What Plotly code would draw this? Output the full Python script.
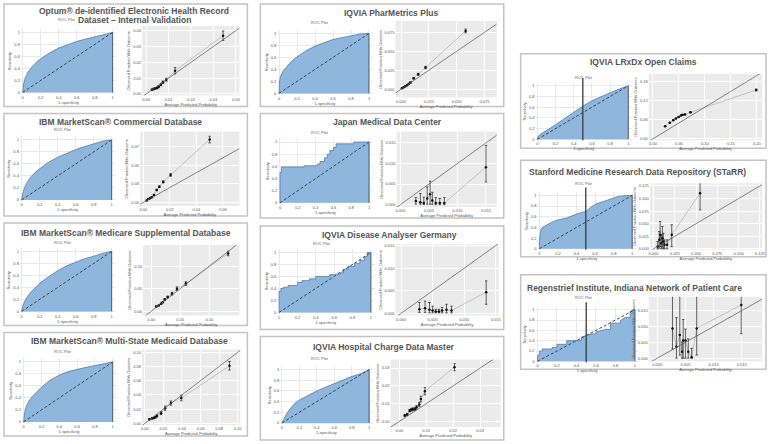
import plotly.graph_objects as go

W, H = 777, 444

# ---------------- DATA ----------------
# Optum EHR
optum_fpr = [0, 0.01, 0.03, 0.06, 0.1, 0.15, 0.2, 0.3, 0.4, 0.5, 0.6, 0.7, 0.8, 0.9, 1]
optum_tpr = [0, 0.14, 0.25, 0.34, 0.42, 0.5, 0.56, 0.66, 0.74, 0.8, 0.85, 0.89, 0.93, 0.97, 1]
optum_pred = [0.0026, 0.0034, 0.0041, 0.0049, 0.0056, 0.0066, 0.0075, 0.009, 0.0129, 0.0343]
optum_obs = [0.0027, 0.0032, 0.0036, 0.0038, 0.0046, 0.0059, 0.0074, 0.009, 0.0147, 0.0368]
optum_lo = [0.0022, 0.0027, 0.0031, 0.0033, 0.004, 0.0052, 0.0066, 0.0081, 0.0127, 0.0338]
optum_hi = [0.0032, 0.0037, 0.0041, 0.0043, 0.0052, 0.0066, 0.0082, 0.0099, 0.0167, 0.0398]

# IBM MarketScan Commercial
comm_fpr = [0, 0.01, 0.03, 0.06, 0.1, 0.15, 0.2, 0.3, 0.4, 0.5, 0.6, 0.7, 0.8, 0.9, 1]
comm_tpr = [0, 0.1, 0.2, 0.29, 0.38, 0.46, 0.52, 0.63, 0.71, 0.78, 0.84, 0.89, 0.94, 0.98, 1]
comm_pred = [0.0025, 0.0038, 0.005, 0.0063, 0.008, 0.01, 0.012, 0.015, 0.0205, 0.05]
comm_obs = [0.0026, 0.0044, 0.0057, 0.007, 0.01, 0.0167, 0.021, 0.0276, 0.037, 0.0846]
comm_lo = [0.0021, 0.0038, 0.0051, 0.0063, 0.0092, 0.0157, 0.0198, 0.0262, 0.0352, 0.0801]
comm_hi = [0.0031, 0.005, 0.0063, 0.0077, 0.0108, 0.0177, 0.0222, 0.029, 0.0388, 0.0891]

# IBM MarketScan Medicare Supplemental
mcare_fpr = [0, 0.01, 0.03, 0.06, 0.1, 0.15, 0.2, 0.3, 0.4, 0.5, 0.6, 0.7, 0.8, 0.9, 1]
mcare_tpr = [0, 0.08, 0.16, 0.24, 0.32, 0.4, 0.47, 0.58, 0.68, 0.76, 0.82, 0.88, 0.92, 0.97, 1]
mcare_pred = [0.0085, 0.013, 0.017, 0.0199, 0.0233, 0.0284, 0.0358, 0.0443, 0.0597, 0.1324]
mcare_obs = [0.0104, 0.0127, 0.0164, 0.0201, 0.0261, 0.0313, 0.0388, 0.05, 0.0612, 0.128]
mcare_lo = [0.0094, 0.0117, 0.0149, 0.0186, 0.0241, 0.0293, 0.0358, 0.046, 0.0572, 0.123]
mcare_hi = [0.0114, 0.0137, 0.0179, 0.0216, 0.0281, 0.0333, 0.0418, 0.054, 0.0652, 0.133]

# IBM MarketScan Multi-State Medicaid
mcaid_fpr = [0, 0.01, 0.03, 0.06, 0.1, 0.15, 0.2, 0.3, 0.4, 0.5, 0.6, 0.7, 0.8, 0.9, 1]
mcaid_tpr = [0, 0.15, 0.26, 0.35, 0.43, 0.51, 0.58, 0.7, 0.78, 0.84, 0.88, 0.91, 0.94, 0.97, 1]
mcaid_pred = [0.0049, 0.0077, 0.0095, 0.0112, 0.013, 0.0175, 0.0218, 0.028, 0.0393, 0.0912]
mcaid_obs = [0.0057, 0.0071, 0.0076, 0.0086, 0.0105, 0.0143, 0.0214, 0.0286, 0.0357, 0.081]
mcaid_lo = [0.0047, 0.0061, 0.0066, 0.0074, 0.009, 0.0123, 0.0184, 0.0256, 0.0317, 0.075]
mcaid_hi = [0.0067, 0.0081, 0.0086, 0.0098, 0.012, 0.0163, 0.0244, 0.0316, 0.0397, 0.087]

# IQVIA PharMetrics Plus
pharm_fpr = [0, 0.005, 0.02, 0.05, 0.1, 0.15, 0.2, 0.3, 0.4, 0.5, 0.6, 0.7, 0.8, 0.9, 1]
pharm_tpr = [0, 0.2, 0.3, 0.38, 0.47, 0.55, 0.61, 0.71, 0.79, 0.85, 0.9, 0.93, 0.96, 0.99, 1]
pharm_pred = [0.0009, 0.0024, 0.0039, 0.0054, 0.0069, 0.0084, 0.0114, 0.0154, 0.022, 0.058]
pharm_obs = [0.0013, 0.0026, 0.004, 0.0053, 0.007, 0.0088, 0.0145, 0.0197, 0.0285, 0.0768]
pharm_lo = [0.0008, 0.0021, 0.0034, 0.0047, 0.0063, 0.008, 0.0135, 0.0185, 0.027, 0.0743]
pharm_hi = [0.0018, 0.0031, 0.0046, 0.0059, 0.0077, 0.0096, 0.0155, 0.0209, 0.03, 0.0793]

# Japan Medical Data Center
japan_fpr = [0, 0, 0.015, 0.015, 0.27, 0.27, 0.42, 0.42, 0.45, 0.45, 0.5, 0.5, 0.53, 0.53, 0.56, 0.56, 0.6, 0.6, 0.63, 0.63, 0.83, 0.83, 1]
japan_tpr = [0, 0.5, 0.5, 0.59, 0.59, 0.61, 0.61, 0.64, 0.64, 0.68, 0.68, 0.74, 0.74, 0.8, 0.8, 0.86, 0.86, 0.91, 0.91, 0.97, 0.97, 1, 1]
japan_pred = [0.0027, 0.0035, 0.0041, 0.0047, 0.0052, 0.0056, 0.0062, 0.0069, 0.0077, 0.015]
japan_obs = [0.0009, 0.0006, 0.0004, 0.0015, 0.0025, 0.001, 0.0004, 0.0004, 0.0004, 0.0091]
japan_lo = [0.0001, 0.0001, 0.0, 0.0001, 0.0001, 0.0001, 0.0, 0.0, 0.0, 0.0055]
japan_hi = [0.0017, 0.0027, 0.0018, 0.0043, 0.0057, 0.003, 0.0017, 0.0015, 0.0017, 0.0144]

# IQVIA Disease Analyser Germany
germ_fpr = [0, 0, 0.02, 0.02, 0.05, 0.05, 0.1, 0.1, 0.2, 0.2, 0.25, 0.25, 0.33, 0.33, 0.4, 0.4, 0.55, 0.55,
            0.65, 0.65, 0.7, 0.7, 0.75, 0.75, 0.82, 0.82, 0.88, 0.88, 0.93, 0.93, 0.96, 0.96, 1]
germ_tpr = [0, 0.35, 0.35, 0.4, 0.4, 0.42, 0.42, 0.45, 0.45, 0.5, 0.5, 0.53, 0.53, 0.56, 0.56, 0.6, 0.6, 0.63,
            0.63, 0.66, 0.66, 0.72, 0.72, 0.77, 0.77, 0.82, 0.82, 0.87, 0.87, 0.93, 0.93, 1, 1]
germ_pred = [0.0029, 0.0038, 0.0045, 0.005, 0.0055, 0.006, 0.0065, 0.0072, 0.008, 0.0135]
germ_obs = [0.0009, 0.0011, 0.0008, 0.0006, 0.0004, 0.0004, 0.0006, 0.0008, 0.0006, 0.0047]
germ_lo = [0.0002, 0.0002, 0.0001, 0.0001, 0.0001, 0.0001, 0.0001, 0.0001, 0.0001, 0.002]
germ_hi = [0.0024, 0.0027, 0.0024, 0.0016, 0.0009, 0.0009, 0.0013, 0.002, 0.0016, 0.0072]

# IQVIA Hospital Charge Data Master
hosp_fpr = [0, 0.02, 0.05, 0.1, 0.15, 0.2, 0.3, 0.4, 0.5, 0.6, 0.7, 0.8, 0.9, 1]
hosp_tpr = [0, 0.07, 0.16, 0.28, 0.37, 0.43, 0.52, 0.6, 0.67, 0.74, 0.8, 0.87, 0.92, 1]
hosp_pred = [0.002, 0.0029, 0.0038, 0.0044, 0.005, 0.0058, 0.0064, 0.0074, 0.008, 0.0095, 0.0205]
hosp_obs = [0.0033, 0.0039, 0.006, 0.0065, 0.0068, 0.007, 0.0079, 0.0095, 0.0126, 0.017, 0.0305]
hosp_lo = [0.0028, 0.0033, 0.0053, 0.0057, 0.006, 0.0061, 0.0069, 0.0084, 0.011, 0.015, 0.0285]
hosp_hi = [0.0038, 0.0045, 0.0067, 0.0073, 0.0076, 0.0079, 0.0089, 0.0106, 0.0142, 0.019, 0.0325]

# IQVIA LRxDx Open Claims
lrx_fpr = [0, 0.01, 0.03, 0.06, 0.1, 0.15, 0.2, 0.3, 0.4, 0.5, 0.6, 0.7, 0.8, 0.9, 1]
lrx_tpr = [0, 0.06, 0.09, 0.12, 0.16, 0.21, 0.27, 0.39, 0.51, 0.62, 0.72, 0.8, 0.87, 0.94, 1]
lrx_pred = [0.0234, 0.0325, 0.039, 0.0442, 0.0494, 0.0539, 0.0571, 0.0617, 0.0721, 0.1987]
lrx_obs = [0.0393, 0.0511, 0.059, 0.0639, 0.0688, 0.0737, 0.0757, 0.0767, 0.0836, 0.1544]
lrx_lo = [0.0383, 0.0501, 0.058, 0.0629, 0.0678, 0.0727, 0.0747, 0.0757, 0.0821, 0.1514]
lrx_hi = [0.0403, 0.0521, 0.06, 0.0649, 0.0698, 0.0747, 0.0767, 0.0777, 0.0851, 0.1574]

# Stanford STaRR
stan_fpr = [0, 0, 0.01, 0.02, 0.04, 0.07, 0.1, 0.15, 0.2, 0.3, 0.4, 0.5, 0.55, 0.6, 0.65, 0.7, 0.8, 0.85, 0.9, 1]
stan_tpr = [0, 0.15, 0.3, 0.37, 0.41, 0.44, 0.47, 0.51, 0.54, 0.58, 0.65, 0.7, 0.77, 0.83, 0.86, 0.89, 0.95, 0.98, 0.99, 1]
stan_pred = [0.0048, 0.0067, 0.0078, 0.0092, 0.0104, 0.0115, 0.0129, 0.0159, 0.0214, 0.0547]
stan_obs = [0.0046, 0.0179, 0.0279, 0.0113, 0.0212, 0.0146, 0.008, 0.008, 0.0279, 0.1107]
stan_lo = [0.0, 0.0013, 0.0046, 0.0003, 0.0033, 0.0, 0.0002, 0.0002, 0.0046, 0.0776]
stan_hi = [0.0146, 0.0345, 0.0544, 0.0279, 0.0444, 0.0312, 0.0179, 0.0179, 0.0478, 0.135]

# Regenstrief INPC
reg_fpr = [0, 0, 0.02, 0.02, 0.05, 0.05, 0.15, 0.15, 0.2, 0.2, 0.3, 0.3, 0.45, 0.45, 0.5, 0.55, 0.6, 0.6,
           0.7, 0.75, 0.75, 0.85, 0.85, 0.9, 0.95, 0.95, 1]
reg_tpr = [0, 0.12, 0.12, 0.2, 0.2, 0.24, 0.24, 0.27, 0.27, 0.33, 0.33, 0.4, 0.4, 0.47, 0.5, 0.53, 0.53, 0.57,
           0.62, 0.62, 0.74, 0.74, 0.79, 0.85, 0.85, 0.97, 1]
reg_pred = [0.0027, 0.0034, 0.004, 0.0044, 0.0046, 0.005, 0.0055, 0.0061, 0.007, 0.0149]
reg_obs = [0.0094, 0.0036, 0.0073, 0.002, 0.0056, 0.0056, 0.002, 0.0003, 0.0094, 0.0168]
reg_lo = [0.0029, 0.0, 0.001, 0.0, 0.0, 0.0, 0.0, 0.0, 0.001, 0.0077]
reg_hi = [0.025, 0.0128, 0.025, 0.0051, 0.0122, 0.0092, 0.0061, 0.0031, 0.025, 0.025]

roc_ticks = [0, 0.2, 0.4, 0.6, 0.8, 1]
roc_ticktext = ["0", "0.2", "0.4", "0.6", "0.8", "1"]

# ---------------- LAYOUT SPEC (pixel boxes) ----------------
panels = [
    dict(title=["Optum® de-identified Electronic Health Record", "Dataset – Internal Validation"],
         tx=134, ty=10, rl=(66, 19), border=(3, 3, 248, 106), roc=(20, 28, 116, 93), cal=(142, 25, 240, 95),
         fpr=optum_fpr, tpr=optum_tpr, pred=optum_pred, obs=optum_obs, lo=optum_lo, hi=optum_hi,
         xr=[-0.0018, 0.0416], yr=[-0.001, 0.043], xt=[0, 0.01, 0.02, 0.03, 0.04], yt=[0, 0.01, 0.02, 0.03, 0.04], fmt="{:.2f}"),
    dict(title=["IBM MarketScan® Commercial Database"],
         tx=120, ty=122, rl=(62, 129), border=(3, 113, 248, 216), roc=(19, 136, 115, 201), cal=(140, 131, 240, 206),
         fpr=comm_fpr, tpr=comm_tpr, pred=comm_pred, obs=comm_obs, lo=comm_lo, hi=comm_hi,
         xr=[-0.0025, 0.0725], yr=[-0.005, 0.0956], xt=[0, 0.02, 0.04, 0.06], yt=[0, 0.025, 0.05, 0.075], fmt="{:.2f}"),
    dict(title=["IBM MarketScan® Medicare Supplemental Database"],
         tx=126, ty=233, rl=(62, 243), border=(3, 223, 248, 326), roc=(19, 248, 115, 313), cal=(143, 245, 240, 316),
         fpr=mcare_fpr, tpr=mcare_tpr, pred=mcare_pred, obs=mcare_obs, lo=mcare_lo, hi=mcare_hi,
         xr=[-0.014, 0.152], yr=[-0.0097, 0.147], xt=[0, 0.05, 0.1], yt=[0, 0.05, 0.1], fmt="{:.2f}"),
    dict(title=["IBM MarketScan® Multi-State Medicaid Database"],
         tx=129, ty=342, rl=(62, 352), border=(3, 333, 248, 437), roc=(21, 359, 116, 424), cal=(142, 350, 241, 426),
         fpr=mcaid_fpr, tpr=mcaid_tpr, pred=mcaid_pred, obs=mcaid_obs, lo=mcaid_lo, hi=mcaid_hi,
         xr=[-0.003, 0.103], yr=[-0.0024, 0.104], xt=[0, 0.02, 0.04, 0.06, 0.08, 0.1], yt=[0, 0.02, 0.04, 0.06, 0.08, 0.1], fmt="{:.2f}"),
    dict(title=["IQVIA PharMetrics Plus"],
         tx=393, ty=12, rl=(321, 22), border=(261, 3, 506, 106), roc=(278, 29, 374, 94), cal=(397, 20, 499, 97),
         fpr=pharm_fpr, tpr=pharm_tpr, pred=pharm_pred, obs=pharm_obs, lo=pharm_lo, hi=pharm_hi,
         xr=[-0.005, 0.086], yr=[-0.011, 0.09], xt=[0, 0.025, 0.05, 0.075], yt=[0, 0.025, 0.05, 0.075], fmt="{:.3f}"),
    dict(title=["Japan Medical Data Center"],
         tx=389, ty=122, rl=(321, 132), border=(261, 113, 506, 218), roc=(279, 138, 374, 204), cal=(398, 131, 499, 207),
         fpr=japan_fpr, tpr=japan_tpr, pred=japan_pred, obs=japan_obs, lo=japan_lo, hi=japan_hi,
         xr=[-0.0007, 0.0169], yr=[-0.0006, 0.0178], xt=[0, 0.005, 0.01, 0.015], yt=[0, 0.005, 0.01, 0.015], fmt="{:.3f}"),
    dict(title=["IQVIA Disease Analyser Germany"],
         tx=391, ty=235, rl=(323, 244), border=(261, 226, 506, 330), roc=(278, 249, 376, 314), cal=(397, 244, 501, 316),
         fpr=germ_fpr, tpr=germ_tpr, pred=germ_pred, obs=germ_obs, lo=germ_lo, hi=germ_hi,
         xr=[-0.0009, 0.0155], yr=[-0.0005, 0.0154], xt=[0, 0.005, 0.01, 0.015], yt=[0, 0.005, 0.01, 0.015], fmt="{:.3f}"),
    dict(title=["IQVIA Hospital Charge Data Master"],
         tx=385, ty=348, rl=(321, 359), border=(261, 337, 506, 441), roc=(281, 367, 374, 425), cal=(392, 360, 503, 428),
         fpr=hosp_fpr, tpr=hosp_tpr, pred=hosp_pred, obs=hosp_obs, lo=hosp_lo, hi=hosp_hi,
         xr=[-0.0033, 0.0377], yr=[-0.0032, 0.0349], xt=[0, 0.01, 0.02, 0.03], yt=[0, 0.01, 0.02, 0.03], fmt="{:.2f}"),
    dict(title=["IQVIA LRxDx Open Claims"],
         tx=647, ty=61, rl=(587, 77), border=(523, 53, 770, 148), roc=(538, 82, 635, 140), cal=(652, 73, 766, 140),
         fpr=lrx_fpr, tpr=lrx_tpr, pred=lrx_pred, obs=lrx_obs, lo=lrx_lo, hi=lrx_hi, vline=True,
         xr=[-0.008, 0.21], yr=[-0.005, 0.206], xt=[0, 0.05, 0.1, 0.15, 0.2], yt=[0, 0.06, 0.12, 0.18], fmt="{:.2f}"),
    dict(title=["Stanford Medicine Research Data Repository (STaRR)"],
         tx=641, ty=172, rl=(587, 183), border=(523, 160, 770, 257), roc=(540, 192, 639, 250), cal=(653, 183, 766, 250),
         fpr=stan_fpr, tpr=stan_tpr, pred=stan_pred, obs=stan_obs, lo=stan_lo, hi=stan_hi, vline=True,
         xr=[-0.0044, 0.1276], yr=[-0.002, 0.1306], xt=[0, 0.025, 0.05, 0.075, 0.1, 0.125], yt=[0, 0.025, 0.05, 0.075, 0.1, 0.125], fmt="{:.3f}"),
    dict(title=["Regenstrief Institute, Indiana Network of Patient Care"],
         tx=638, ty=288, rl=(587, 298), border=(523, 275, 770, 370), roc=(538, 307, 642, 363), cal=(652, 297, 766, 362),
         fpr=reg_fpr, tpr=reg_tpr, pred=reg_pred, obs=reg_obs, lo=reg_lo, hi=reg_hi, vline=True,
         xr=[-0.0015, 0.0186], yr=[-0.001, 0.0194], xt=[0, 0.005, 0.01, 0.015], yt=[0, 0.005, 0.01, 0.015], fmt="{:.3f}"),
]

FILL = "#8fb6dc"
EDGE = "#4a7db3"
TXT = "#555555"
SMALL = dict(size=4, color="#555555")


def xd(a, b):
    return [a / W, b / W]


def yd(a, b):
    return [1 - b / H, 1 - a / H]


fig = go.Figure()
layout = dict(width=W, height=H, margin=dict(l=0, r=0, t=0, b=0), paper_bgcolor="white",
              plot_bgcolor="white", showlegend=False, font=dict(family="Liberation Sans, Arial, sans-serif"))
shapes = []
annotations = []

for i, p in enumerate(panels):
    rid, cid = 2 * i + 1, 2 * i + 2
    rx, ry = ("x", "y") if rid == 1 else (f"x{rid}", f"y{rid}")
    cx, cy = f"x{cid}", f"y{cid}"
    rxa, rya = ("xaxis", "yaxis") if rid == 1 else (f"xaxis{rid}", f"yaxis{rid}")

    # panel border
    b = p["border"]
    shapes.append(dict(type="rect", xref="paper", yref="paper", x0=b[0] / W, x1=b[2] / W,
                       y0=1 - b[3] / H, y1=1 - b[1] / H, line=dict(color="#c4c4c4", width=1.5),
                       fillcolor="rgba(0,0,0,0)", layer="below"))
    # titles
    for k, line in enumerate(p["title"]):
        annotations.append(dict(text="<b>" + line + "</b>", x=p["tx"] / W, y=1 - (p["ty"] + 9 * k) / H,
                                xref="paper", yref="paper", showarrow=False, xanchor="center", yanchor="middle",
                                font=dict(size=8.5, color=TXT)))
    annotations.append(dict(text="ROC Plot", x=p["rl"][0] / W, y=1 - p["rl"][1] / H, xref="paper", yref="paper",
                            showarrow=False, xanchor="center", yanchor="middle", font=dict(size=4, color="#666")))

    # ROC subplot
    r = p["roc"]
    layout[rxa] = dict(domain=xd(r[0], r[2]), anchor=ry, range=[-0.02, 1.04], tickvals=roc_ticks,
                       ticktext=roc_ticktext, tickfont=SMALL, showgrid=True, gridcolor="#e9e9e9", gridwidth=0.5,
                       zeroline=False, showline=False, ticks="", ticklen=0,
                       title=dict(text="1-specificity", font=SMALL, standoff=1))
    layout[rya] = dict(domain=yd(r[1], r[3]), anchor=rx, range=[-0.02, 1.06], tickvals=roc_ticks,
                       ticktext=roc_ticktext, tickfont=SMALL, showgrid=True, gridcolor="#e9e9e9", gridwidth=0.5,
                       zeroline=False, showline=False, ticks="",
                       title=dict(text="Sensitivity", font=SMALL, standoff=2))
    fig.add_trace(go.Scatter(x=p["fpr"], y=p["tpr"], mode="lines", fill="tozeroy", fillcolor=FILL,
                             line=dict(color=EDGE, width=0.8, shape="linear"), xaxis=rx, yaxis=ry, hoverinfo="skip"))
    shapes.append(dict(type="line", xref=rx, yref=ry, x0=0, y0=0, x1=1, y1=1,
                       line=dict(color="#2b3a4a", width=0.9, dash="3px,2px"), layer="above"))
    shapes.append(dict(type="line", xref=rx, yref=ry, x0=1, y0=0, x1=1, y1=1,
                       line=dict(color="#4a5a6a", width=1), layer="above"))
    if p.get("vline"):
        shapes.append(dict(type="line", xref=rx, yref=f"{ry} domain", x0=0.5, y0=0, x1=0.5, y1=1.08,
                           line=dict(color="#3a3a3a", width=1.3), layer="above"))

    # calibration subplot
    c = p["cal"]
    ct_x = [p["fmt"].format(v) for v in p["xt"]]
    ct_y = [p["fmt"].format(v) for v in p["yt"]]
    layout[f"xaxis{cid}"] = dict(domain=xd(c[0], c[2]), anchor=cy, range=p["xr"], tickvals=p["xt"], ticktext=ct_x,
                                 tickfont=SMALL, showgrid=True, gridcolor="white", gridwidth=0.8, zeroline=False,
                                 ticks="", title=dict(text="Average Predicted Probability", font=SMALL, standoff=1))
    layout[f"yaxis{cid}"] = dict(domain=yd(c[1], c[3]), anchor=cx, range=p["yr"], tickvals=p["yt"], ticktext=ct_y,
                                 tickfont=SMALL, showgrid=True, gridcolor="white", gridwidth=0.8, zeroline=False,
                                 ticks="", title=dict(text="Observed Fraction With Outcome", font=SMALL, standoff=2))
    shapes.append(dict(type="rect", xref=f"{cx} domain", yref=f"{cy} domain", x0=0, x1=1, y0=0, y1=1,
                       fillcolor="#ebebeb", line=dict(width=0), layer="below"))
    lo_d = max(p["xr"][0], p["yr"][0])
    hi_d = min(p["xr"][1], p["yr"][1])
    shapes.append(dict(type="line", xref=cx, yref=cy, x0=lo_d, y0=lo_d, x1=hi_d, y1=hi_d,
                       line=dict(color="#555555", width=0.7), layer="above"))
    fig.add_trace(go.Scatter(x=p["pred"], y=p["obs"], mode="lines", line=dict(color="#b5b5b5", width=0.8),
                             xaxis=cx, yaxis=cy, hoverinfo="skip"))
    up = [h - o for h, o in zip(p["hi"], p["obs"])]
    dn = [o - l for o, l in zip(p["obs"], p["lo"])]
    fig.add_trace(go.Scatter(x=p["pred"], y=p["obs"], mode="markers", marker=dict(color="#111", size=2.5),
                             error_y=dict(type="data", symmetric=False, array=up, arrayminus=dn,
                                          color="#222", thickness=0.7, width=1.2),
                             xaxis=cx, yaxis=cy, hoverinfo="skip"))

layout["shapes"] = shapes
layout["annotations"] = annotations
fig.update_layout(**layout)
fig.write_html("out.html", config={"displayModeBar": False},
               post_script="document.body.style.margin='0';document.body.style.overflow='hidden';")
